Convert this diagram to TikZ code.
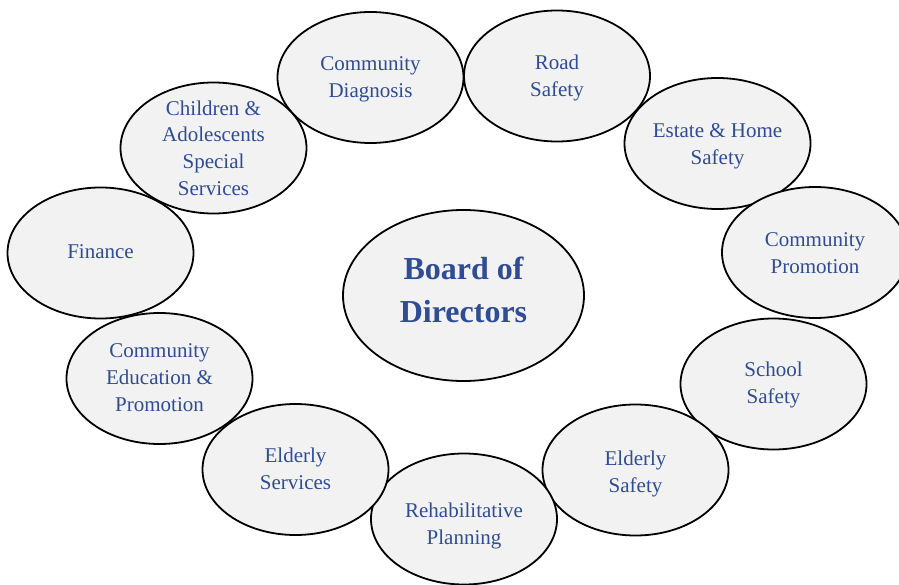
\documentclass[tikz,border=0pt]{standalone}
\usepackage{fontspec}
\setmainfont{Liberation Serif}
\usetikzlibrary{shapes.geometric}
\definecolor{txtblue}{RGB}{47,76,148}
\definecolor{bubfill}{RGB}{242,242,242}
\tikzset{
  bubble/.style={ellipse, draw=black, line width=1.8bp, fill=bubfill, inner sep=0pt,
    minimum width=186bp, minimum height=131bp},
  bigbubble/.style={bubble, minimum width=241bp, minimum height=171bp},
  txt/.style={align=center, text=txtblue, inner sep=0pt, font=\fontsize{21bp}{26.7bp}\selectfont},
  bigtxt/.style={align=center, text=txtblue, inner sep=0pt, font=\fontsize{32bp}{43bp}\selectfont\bfseries}
}
\begin{document}
\begin{tikzpicture}[x=1bp,y=-1bp]
\useasboundingbox (0,0) rectangle (899,585);
\clip (0,0) rectangle (899,585);
% outer bubbles
\node[bubble] (diag) at (370.5,77.5) {};
\node[bubble] (road) at (557,76) {};
\node[bubble] (estate) at (717.5,143.5) {};
\node[bubble] (promo) at (815,252.5) {};
\node[bubble] (school) at (773.5,384) {};
\node[bubble] (eldsaf) at (635.5,470) {};
\node[bubble] (rehab) at (464,519) {};
\node[bubble] (eldserv) at (295.5,469.5) {};
\node[bubble] (edu) at (159.5,378.5) {};
\node[bubble] (fin) at (100.5,253) {};
\node[bubble] (child) at (213.5,148) {};
\node[bigbubble] (board) at (463.5,295.5) {};
% texts
\node[txt] (tdiag) at ([yshift=-2bp]diag.center) {Community\\Diagnosis};
\node[txt] (troad) at ([yshift=-2bp]road.center) {Road\\Safety};
\node[txt] (testate) at ([yshift=-3bp]estate.center) {Estate \& Home\\Safety};
\node[txt] (tpromo) at ([yshift=-1bp]promo.center) {Community\\Promotion};
\node[txt] (tschool) at ([yshift=-1bp]school.center) {School\\Safety};
\node[txt] (teldsaf) at ([yshift=-4bp]eldsaf.center) {Elderly\\Safety};
\node[txt] (trehab) at ([yshift=-7bp]rehab.center) {Rehabilitative\\Planning};
\node[txt] (teldserv) at ([yshift=1bp]eldserv.center) {Elderly\\Services};
\node[txt] (tedu) at ([yshift=1bp]edu.center) {Community\\Education \&\\Promotion};
\node[txt] (tfin) at ([yshift=1bp]fin.center) {Finance};
\node[txt] (tchild) at ([yshift=0bp]child.center) {Children \&\\Adolescents\\Special\\Services};
\node[bigtxt] (tboard) at ([yshift=6bp]board.center) {Board of\\Directors};
\end{tikzpicture}
\end{document}
